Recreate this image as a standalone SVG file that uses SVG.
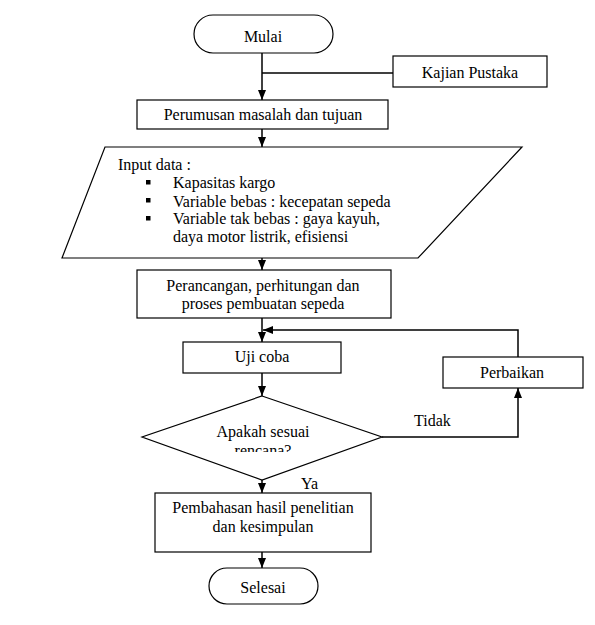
<svg xmlns="http://www.w3.org/2000/svg" width="595" height="625" viewBox="0 0 595 625">
<style>
.s{fill:#fff;stroke:#000;stroke-width:1.2}
.t{font-family:"Liberation Serif","Times New Roman",serif;font-size:16px;fill:#000}
.c{text-anchor:middle}
.l{fill:none;stroke:#000;stroke-width:1.5}
</style>
<defs>
<marker id="a" markerUnits="userSpaceOnUse" markerWidth="10" markerHeight="10" viewBox="0 0 10 10" refX="10" refY="5" orient="auto">
<path d="M0,1 L10,5 L0,9 Z" fill="#000"/>
</marker>
<clipPath id="cl"><rect x="0" y="0" width="595" height="452"/></clipPath>
</defs>
<g id="connectors">
<path class="l" d="M262,53 V100" marker-end="url(#a)"/>
<path class="l" d="M262,73 H393"/>
<path class="l" d="M262,129 V147" marker-end="url(#a)"/>
<path class="l" d="M262,250 V270" marker-end="url(#a)"/>
<path class="l" d="M262,318 V342" marker-end="url(#a)"/>
<path class="l" d="M518,357 V330 H263" marker-end="url(#a)"/>
<path class="l" d="M262,373 V396" marker-end="url(#a)"/>
<path class="l" d="M382,437 H518 V388" marker-end="url(#a)"/>
<path class="l" d="M262,474 V493" marker-end="url(#a)"/>
<path class="l" d="M262,546 V568" marker-end="url(#a)"/>
</g>
<g id="mulai"><rect class="s" x="194" y="15" width="139" height="38" rx="19"/><text class="t c" x="263" y="42">Mulai</text></g>
<g id="kajian"><rect class="s" x="393" y="56" width="154" height="31"/><text class="t c" x="470" y="78">Kajian Pustaka</text></g>
<g id="perumusan"><rect class="s" x="137" y="100" width="251" height="29"/><text class="t c" x="263" y="120">Perumusan masalah dan tujuan</text></g>
<g id="input"><path class="s" d="M105,147 H522 L418,258 H62 Z"/>
<text class="t" x="118" y="170">Input data :</text>
<rect x="146" y="180" width="4.5" height="4.5" fill="#000"/>
<rect x="146" y="198" width="4.5" height="4.5" fill="#000"/>
<rect x="146" y="216" width="4.5" height="4.5" fill="#000"/>
<text class="t" x="173" y="188">Kapasitas kargo</text>
<text class="t" x="173" y="207">Variable bebas : kecepatan sepeda</text>
<text class="t" x="173" y="224">Variable tak bebas : gaya kayuh,</text>
<text class="t" x="173" y="242">daya motor listrik, efisiensi</text>
</g>
<g id="perancangan"><rect class="s" x="137" y="270" width="254" height="48"/><text class="t c" x="263" y="291">Perancangan, perhitungan dan</text><text class="t c" x="263" y="309">proses pembuatan sepeda</text></g>
<g id="ujicoba"><rect class="s" x="183" y="342" width="158" height="31"/><text class="t c" x="262" y="362">Uji coba</text></g>
<g id="perbaikan"><rect class="s" x="443" y="357" width="140" height="31"/><text class="t c" x="512" y="378">Perbaikan</text></g>
<g id="keputusan"><path class="s" d="M262,396 L382,437 L262,480 L142,437 Z"/><text class="t c" x="263" y="437">Apakah sesuai</text><text class="t c" x="263" y="456" clip-path="url(#cl)">rencana?</text></g>
<text class="t" x="414" y="426">Tidak</text>
<text class="t" x="301" y="489">Ya</text>
<g id="pembahasan"><rect class="s" x="155" y="493" width="216" height="59"/><text class="t c" x="263" y="513">Pembahasan hasil penelitian</text><text class="t c" x="263" y="532">dan kesimpulan</text></g>
<g id="selesai"><rect class="s" x="209" y="568" width="109" height="36" rx="18"/><text class="t c" x="263" y="593">Selesai</text></g>
</svg>
